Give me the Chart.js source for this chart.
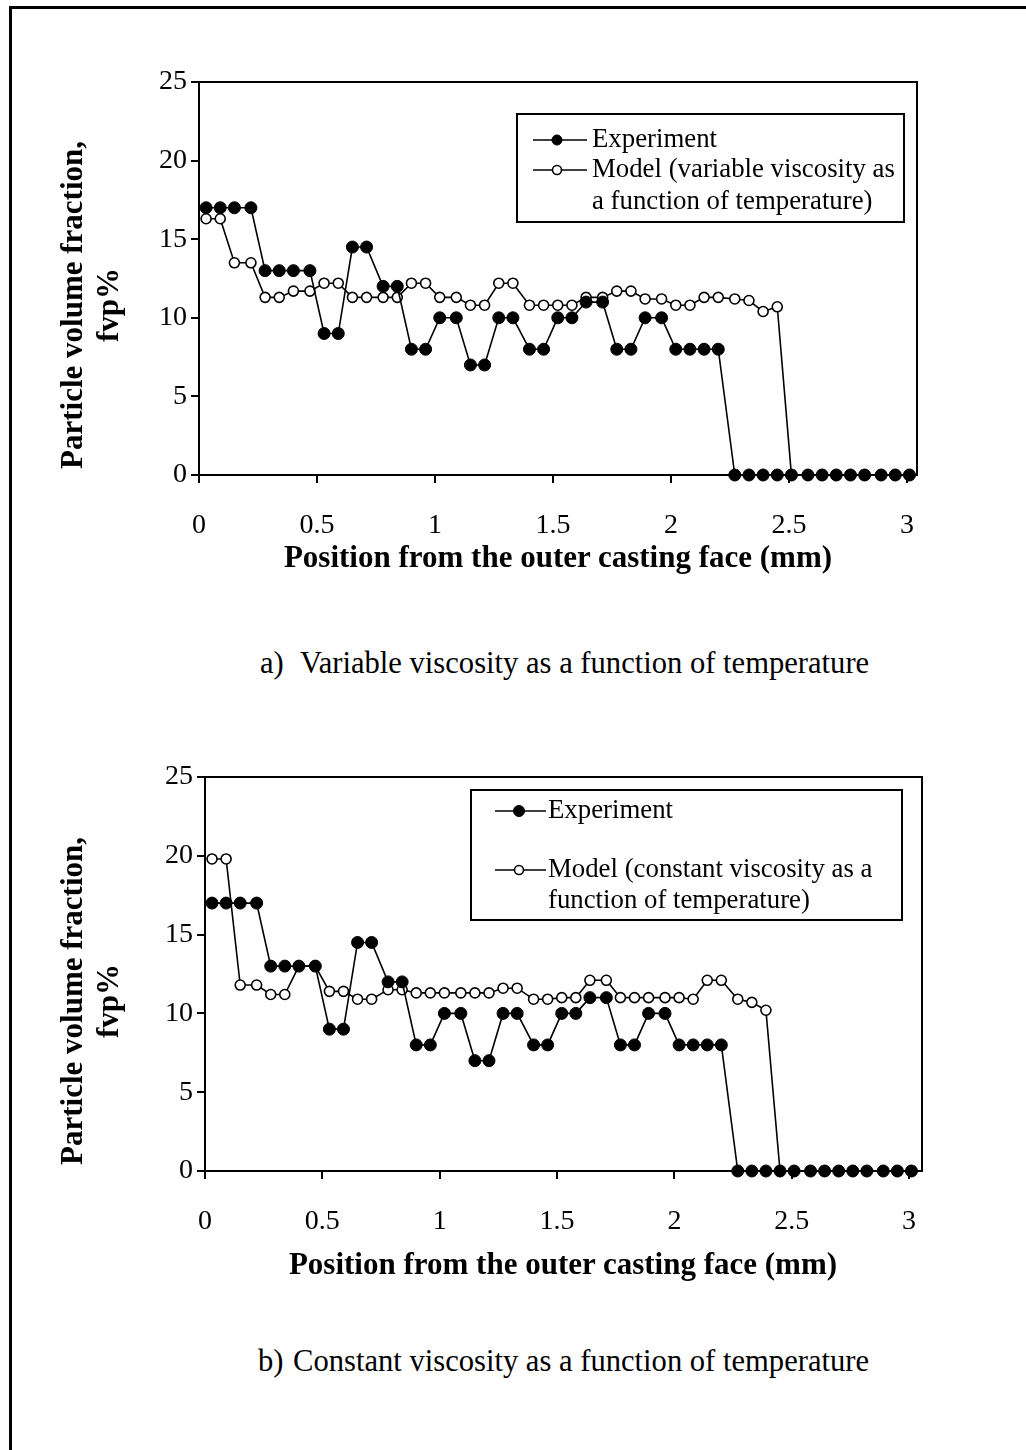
<!DOCTYPE html>
<html>
<head>
<meta charset="utf-8">
<script src="https://cdn.jsdelivr.net/npm/chart.js@4.4.1/dist/chart.umd.min.js"></script>
<style>
  html, body { margin: 0; padding: 0; background: #fff; }
  body { width: 1026px; height: 1450px; position: relative; overflow: hidden;
         font-family: "Liberation Serif", "Times New Roman", serif; color: #000; }
  .frame { position: absolute; left: 9px; top: 6px; width: 1100px; height: 1500px;
           border-left: 3px solid #000; border-top: 3px solid #000; box-sizing: border-box; }
  .panel { position: absolute; left: 0; width: 1026px; height: 640px; }
  .panel canvas { position: absolute; left: 0; top: 0; }
  .ytitle { position: absolute; width: 440px; height: 72px; font-weight: bold; font-size: 31px;
            line-height: 36px; text-align: center; white-space: nowrap;
            transform: rotate(-90deg); transform-origin: 50% 50%; }
  .xtitle { position: absolute; font-weight: bold; font-size: 31px; line-height: 34px;
            white-space: nowrap; transform: translate(-50%, -50%); }
  .caption { position: absolute; font-size: 30.6px; line-height: 34px; white-space: nowrap;
             transform: translateY(-50%); }
</style>
</head>
<body>
<div class="frame"></div>

<div class="panel" style="top:0px"><canvas id="chartA" width="1026" height="640"></canvas></div>
<div class="ytitle" style="left:-130px; top:269px">Particle volume fraction,<br>fvp%</div>
<div class="xtitle" style="left:558px; top:557px">Position from the outer casting face (mm)</div>
<div class="caption" style="left:260px; top:663px">a)</div>
<div class="caption" style="left:300px; top:663px">Variable viscosity as a function of temperature</div>

<div class="panel" style="top:700px"><canvas id="chartB" width="1026" height="640"></canvas></div>
<div class="ytitle" style="left:-130px; top:965px">Particle volume fraction,<br>fvp%</div>
<div class="xtitle" style="left:563px; top:1264px">Position from the outer casting face (mm)</div>
<div class="caption" style="left:258px; top:1361px">b)</div>
<div class="caption" style="left:293px; top:1361px">Constant viscosity as a function of temperature</div>

<script>
// Sampling positions across the casting section (mm)
const positionsMm = [
  0.03, 0.09, 0.15, 0.22, 0.28, 0.34, 0.40, 0.47, 0.53, 0.59,
  0.65, 0.71, 0.78, 0.84, 0.90, 0.96, 1.02, 1.09, 1.15, 1.21,
  1.27, 1.33, 1.40, 1.46, 1.52, 1.58, 1.64, 1.71, 1.77, 1.83,
  1.89, 1.96, 2.02, 2.08, 2.14, 2.20, 2.27, 2.33, 2.39, 2.45,
  2.51, 2.58, 2.64, 2.70, 2.76, 2.82, 2.89, 2.95, 3.01
];

// Measured particle volume fraction, fvp%
const experiment = [
  17, 17, 17, 17, 13, 13, 13, 13, 9, 9,
  14.5, 14.5, 12, 12, 8, 8, 10, 10, 7, 7,
  10, 10, 8, 8, 10, 10, 11, 11, 8, 8,
  10, 10, 8, 8, 8, 8, 0, 0, 0, 0,
  0, 0, 0, 0, 0, 0, 0, 0, 0
];

// Model with viscosity varying with temperature
const modelVariable = [
  16.3, 16.3, 13.5, 13.5, 11.3, 11.3, 11.7, 11.7, 12.2, 12.2,
  11.3, 11.3, 11.3, 11.3, 12.2, 12.2, 11.3, 11.3, 10.8, 10.8,
  12.2, 12.2, 10.8, 10.8, 10.8, 10.8, 11.3, 11.3, 11.7, 11.7,
  11.2, 11.2, 10.8, 10.8, 11.3, 11.3, 11.2, 11.1, 10.4, 10.7,
  0, 0, 0, 0, 0, 0, 0, 0, 0
];

// Model with constant viscosity
const modelConstant = [
  19.8, 19.8, 11.8, 11.8, 11.2, 11.2, 13, 13, 11.4, 11.4,
  10.9, 10.9, 11.5, 11.5, 11.3, 11.3, 11.3, 11.3, 11.3, 11.3,
  11.6, 11.6, 10.9, 10.9, 11.0, 11.0, 12.1, 12.1, 11.0, 11.0,
  11.0, 11.0, 11.0, 10.9, 12.1, 12.1, 10.9, 10.7, 10.2, 0,
  0, 0, 0, 0, 0, 0, 0, 0, 0
];

const xTickValues = [0, 0.5, 1, 1.5, 2, 2.5, 3];
const xTickLabels = ['0', '0.5', '1', '1.5', '2', '2.5', '3'];
const yTickValues = [0, 5, 10, 15, 20, 25];
const yTickLabels = ['0', '5', '10', '15', '20', '25'];

const experimentLegend = ['Experiment'];
const variableLegend = ['Model (variable viscosity as', 'a function of temperature)'];
const constantLegend = ['Model (constant viscosity as a', 'function of temperature)'];

const FONT = '"Liberation Serif", "Times New Roman", serif';

// Frame round the plotting area
const plotBox = {
  id: 'plotBox',
  beforeDatasetsDraw(chart) {
    const { ctx, chartArea: a } = chart;
    ctx.save();
    ctx.strokeStyle = '#000';
    ctx.lineWidth = 2;
    ctx.strokeRect(a.left, a.top, a.right - a.left, a.bottom - a.top);
    ctx.restore();
  }
};

// Boxed legend placed inside the plot
const boxLegend = {
  id: 'boxLegend',
  afterDraw(chart, args, opts) {
    const { ctx } = chart;
    ctx.save();
    ctx.fillStyle = '#fff';
    ctx.fillRect(opts.x, opts.y, opts.w, opts.h);
    ctx.strokeStyle = '#000';
    ctx.lineWidth = 2;
    ctx.strokeRect(opts.x, opts.y, opts.w, opts.h);
    ctx.font = '26.8px ' + FONT;
    ctx.textBaseline = 'middle';
    ctx.textAlign = 'left';
    opts.rows.forEach((row, i) => {
      const ds = chart.data.datasets[i];
      ctx.strokeStyle = '#000';
      ctx.lineWidth = 1.5;
      ctx.beginPath();
      ctx.moveTo(opts.lineX1, row.y);
      ctx.lineTo(opts.lineX2, row.y);
      ctx.stroke();
      ctx.beginPath();
      ctx.arc(opts.markX, row.y, row.r, 0, Math.PI * 2);
      ctx.fillStyle = ds.pointBackgroundColor;
      ctx.fill();
      ctx.lineWidth = ds.pointBorderWidth;
      ctx.strokeStyle = ds.pointBorderColor;
      ctx.stroke();
      ctx.fillStyle = '#000';
      row.lines.forEach((t, k) => ctx.fillText(t, opts.textX, row.y + k * opts.lineGap));
    });
    ctx.restore();
  }
};

function series(values) {
  return positionsMm.map((x, i) => ({ x: x, y: values[i] }));
}

function makeChart(id, modelValues, modelLabel, g, legend) {
  const tickFont = { family: FONT, size: 28 };
  const axisGrid = { display: true, drawOnChartArea: false, drawTicks: true, tickLength: 8,
                     color: '#000', lineWidth: 2 };
  return new Chart(document.getElementById(id), {
    type: 'line',
    data: {
      datasets: [
        { label: 'Experiment', data: series(experiment), borderColor: '#000', borderWidth: 1.6,
          pointRadius: 6, pointBackgroundColor: '#000', pointBorderColor: '#000', pointBorderWidth: 1,
          tension: 0, clip: false },
        { label: modelLabel, data: series(modelValues), borderColor: '#000', borderWidth: 1.6,
          pointRadius: 5, pointBackgroundColor: '#fff', pointBorderColor: '#000', pointBorderWidth: 1.6,
          tension: 0, clip: false }
      ]
    },
    options: {
      responsive: false,
      animation: false,
      devicePixelRatio: 1,
      layout: { padding: { left: 0, top: g.top, right: g.right, bottom: g.bottom } },
      plugins: { legend: { display: false }, tooltip: { enabled: false }, boxLegend: legend },
      scales: {
        x: {
          type: 'linear', min: 0, max: g.xMax,
          afterFit: s => { s.height = g.xAxisH; },
          afterBuildTicks: s => { s.ticks = xTickValues.map(v => ({ value: v })); },
          ticks: { callback: (v, i) => xTickLabels[i], padding: 26, font: tickFont, color: '#000',
                   maxRotation: 0, autoSkip: false, includeBounds: false },
          grid: axisGrid,
          border: { display: true, color: '#000', width: 2 }
        },
        y: {
          min: 0, max: 25,
          afterFit: s => { s.width = g.left; },
          afterBuildTicks: s => { s.ticks = yTickValues.map(v => ({ value: v })); },
          ticks: { callback: (v, i) => yTickLabels[i], padding: 4, font: tickFont, color: '#000' },
          grid: axisGrid,
          border: { display: true, color: '#000', width: 2 }
        }
      }
    },
    plugins: [plotBox, boxLegend]
  });
}

makeChart('chartA', modelVariable, variableLegend.join(' '),
  { left: 199, top: 82, right: 109, bottom: 95, xAxisH: 70, xMax: 3.042 },
  { x: 517, y: 114, w: 387, h: 108, lineX1: 533, lineX2: 587, markX: 557, textX: 592, lineGap: 32,
    rows: [ { y: 140, r: 5, lines: experimentLegend }, { y: 170, r: 4.5, lines: variableLegend } ] });

makeChart('chartB', modelConstant, constantLegend.join(' '),
  { left: 205, top: 77, right: 104, bottom: 99, xAxisH: 70, xMax: 3.055 },
  { x: 471, y: 90, w: 431, h: 130, lineX1: 495, lineX2: 546, markX: 519, textX: 548, lineGap: 31,
    rows: [ { y: 111, r: 5.5, lines: experimentLegend }, { y: 170, r: 4.5, lines: constantLegend } ] });
</script>
</body>
</html>
